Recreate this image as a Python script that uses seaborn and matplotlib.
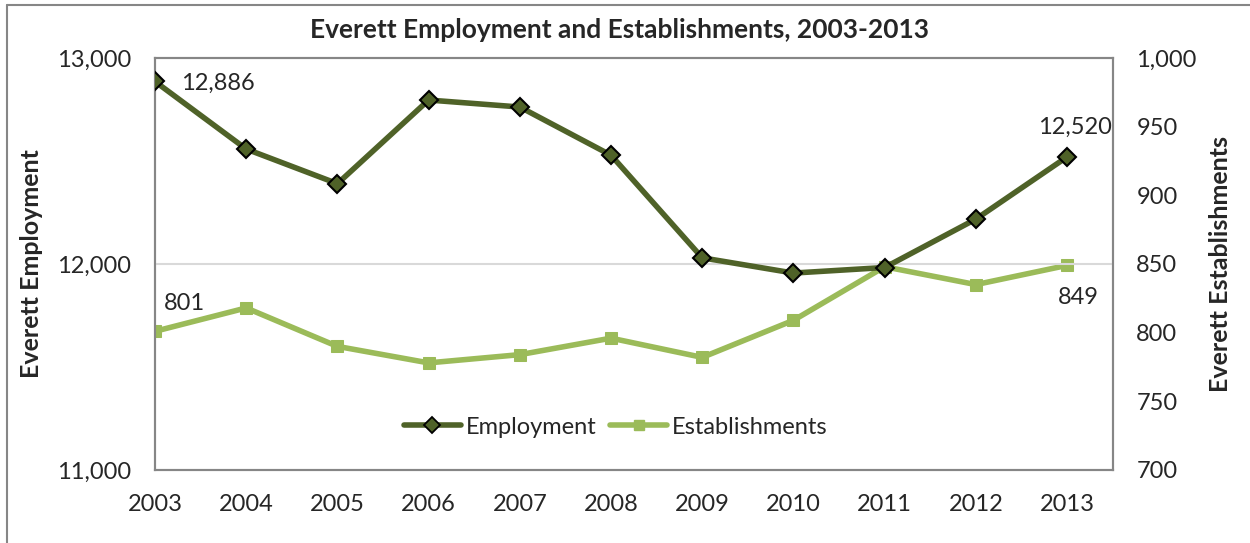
import matplotlib
matplotlib.use("Agg")
import matplotlib.pyplot as plt
import matplotlib.ticker as mticker
from matplotlib.lines import Line2D
import seaborn as sns
import pandas as pd
import numpy as np

years = ["2003", "2004", "2005", "2006", "2007", "2008", "2009", "2010", "2011", "2012", "2013"]
employment = [12886, 12558, 12390, 12796, 12762, 12528, 12030, 11956, 11983, 12218, 12520]
establishments = [801, 818, 790, 778, 784, 796, 782, 809, 848, 835, 849]
left_ticks = [11000, 12000, 13000]
right_ticks = [700, 750, 800, 850, 900, 950, 1000]

sns.set_theme(style="white")
plt.rcParams['font.family'] = ['Lato', 'DejaVu Sans']

EMP_C = "#4F6228"
EST_C = "#9BBB59"
GRAY = "#868686"
FS = 17

df = pd.DataFrame({"pos": np.arange(len(years)), "year": years,
                   "Employment": employment, "Establishments": establishments})

fig = plt.figure(figsize=(12.5, 5.43), dpi=100)
ax = fig.add_axes([155/1250, 1-470/543, (1112.7-155)/1250, (470-58)/543])
ax2 = ax.twinx()

sns.lineplot(data=df, x="pos", y="Employment", ax=ax, color=EMP_C, lw=4,
             marker="D", markersize=9, markerfacecolor=EMP_C, markeredgecolor="black",
             markeredgewidth=1.5, zorder=5)
sns.lineplot(data=df, x="pos", y="Establishments", ax=ax2, color=EST_C, lw=4,
             marker="s", markersize=8, markerfacecolor=EST_C, markeredgecolor=EST_C,
             zorder=4)

ax.set_zorder(ax2.get_zorder() + 1)
ax.patch.set_visible(False)

ax.set_xlim(0, len(years) - 0.5)
ax.set_ylim(11000, 13000)
ax2.set_ylim(700, 1000)
ax.set_yticks(left_ticks)
ax2.set_yticks(right_ticks)
ax.yaxis.set_major_formatter(mticker.FuncFormatter(lambda v, p: f"{int(v):,}"))
ax2.yaxis.set_major_formatter(mticker.FuncFormatter(lambda v, p: f"{int(v):,}"))
ax.set_xticks(df["pos"])
ax.set_xticklabels(years)
ax.set_xticks(np.arange(len(years)) + 0.5, minor=True)
ax.tick_params(axis="x", which="major", length=0, pad=17, labelsize=FS)
ax.tick_params(axis="x", which="minor", length=14, direction="inout", color=GRAY, width=1.5)
ax.tick_params(axis="y", length=0, pad=17, labelsize=FS)
ax2.tick_params(axis="y", length=0, pad=17, labelsize=FS)

ax.grid(False)
ax2.grid(False)
ax.axhline(12000, color="#D9D9D9", lw=1.5, zorder=0)

for a in (ax, ax2):
    for s in a.spines.values():
        s.set_color(GRAY)
        s.set_linewidth(1.5)

ax.set_xlabel("")
ax.set_ylabel("Everett Employment", fontsize=18, fontweight="bold", labelpad=10)
ax2.set_ylabel("Everett Establishments", fontsize=18, fontweight="bold", labelpad=9)

# data labels
ax.annotate(f"{employment[0]:,}", (0, employment[0]), xytext=(19, -1), textcoords="offset points",
            fontsize=FS, ha="left", va="center")
ax.annotate(f"{employment[-1]:,}", (10, employment[-1]), xytext=(6, 21), textcoords="offset points",
            fontsize=FS, ha="center", va="center")
ax2.annotate(f"{establishments[0]}", (0, establishments[0]), xytext=(21, 20), textcoords="offset points",
             fontsize=FS, ha="center", va="center")
ax2.annotate(f"{establishments[-1]}", (10, establishments[-1]), xytext=(8, -23), textcoords="offset points",
             fontsize=FS, ha="center", va="center")

# legend
ax2.get_legend() and ax2.get_legend().remove()
handles = [Line2D([], [], color=EMP_C, lw=4, marker="D", markersize=8, markerfacecolor=EMP_C,
                  markeredgecolor="black", markeredgewidth=1.3),
           Line2D([], [], color=EST_C, lw=4, marker="s", markersize=7, markerfacecolor=EST_C,
                  markeredgecolor=EST_C)]
ax.legend(handles, ["Employment", "Establishments"], loc="center", bbox_to_anchor=(0.481, 0.104),
          ncol=2, frameon=False, fontsize=FS, handlelength=2.4, handletextpad=0.2,
          columnspacing=0.6)

fig.suptitle("Everett Employment and Establishments, 2003-2013", x=0.496, y=1-30/543,
             va="center", fontsize=19, fontweight="bold")

# outer chart frame (cropped)
fig.add_artist(Line2D([7/1250, 7/1250], [0, 1-5/543], color=GRAY, lw=1.5, transform=fig.transFigure))
fig.add_artist(Line2D([7/1250, 1], [1-5/543, 1-5/543], color=GRAY, lw=1.5, transform=fig.transFigure))

fig.savefig("out.png", dpi=100, facecolor="white")
